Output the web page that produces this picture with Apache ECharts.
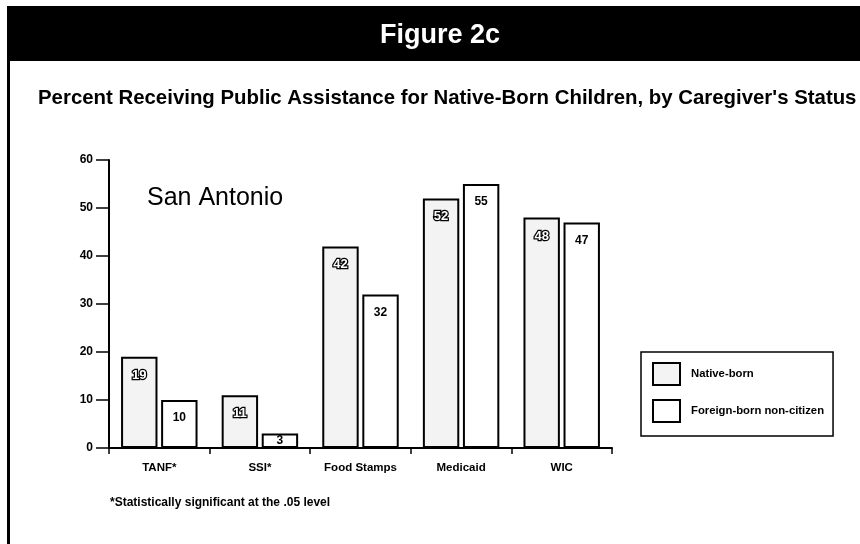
<!DOCTYPE html>
<html>
<head>
<meta charset="utf-8">
<script src="https://cdn.jsdelivr.net/npm/echarts@6/dist/echarts.min.js"></script>
<style>
  html, body { margin: 0; padding: 0; background: #fff; }
  #chart { width: 860px; height: 544px; }
</style>
</head>
<body>
<div id="chart"></div>
<script>
const categories = ['TANF*', 'SSI*', 'Food Stamps', 'Medicaid', 'WIC'];
const nativeBorn = [19, 11, 42, 52, 48];
const foreignBorn = [10, 3, 32, 55, 47];
const seriesNames = ['Native-born', 'Foreign-born non-citizen'];
const headerText = 'Figure 2c';
const subtitleText = "Percent Receiving Public Assistance for Native-Born Children, by Caregiver's Status";
const cityText = 'San Antonio';
const footnoteText = '*Statistically significant at the .05 level';

const FONT = '"Liberation Sans", Arial, Helvetica, sans-serif';

function items(vals) {
  return vals.map(v => (v < 6 ? { value: v, label: { distance: 1 } } : { value: v }));
}

const chart = echarts.init(document.getElementById('chart'), null, { renderer: 'canvas' });

chart.setOption({
  backgroundColor: '#ffffff',
  animation: false,
  grid: { left: 109, right: 248, top: 160, bottom: 96 },
  xAxis: {
    type: 'category',
    data: categories,
    axisLine: { show: true, lineStyle: { color: '#000', width: 2 } },
    axisTick: { show: true, length: 6, lineStyle: { color: '#000', width: 1.5 } },
    axisLabel: { color: '#000', fontFamily: FONT, fontWeight: 'bold', fontSize: 11.5, margin: 14 }
  },
  yAxis: {
    type: 'value',
    min: 0, max: 60, interval: 10,
    axisLine: { show: true, lineStyle: { color: '#000', width: 2 } },
    axisTick: { show: true, length: 13, lineStyle: { color: '#000', width: 1.5 } },
    splitLine: { show: false },
    axisLabel: { color: '#000', fontFamily: FONT, fontWeight: 'bold', fontSize: 12, margin: 16 }
  },
  legend: {
    show: true,
    orient: 'vertical',
    left: 641, top: 352,
    selectedMode: false,
    itemWidth: 27, itemHeight: 22, itemGap: 13,
    padding: [10, 9, 13, 11],
    borderColor: '#000', borderWidth: 1.5,
    backgroundColor: '#fff',
    icon: 'rect',
    textStyle: { color: '#000', fontFamily: FONT, fontWeight: 'bold', fontSize: 11.3, padding: [0, 0, 0, 6] },
    data: seriesNames
  },
  series: [
    {
      name: seriesNames[0],
      type: 'bar',
      data: items(nativeBorn),
      barGap: '10%',
      barCategoryGap: '24%',
      itemStyle: { color: '#f3f3f3', borderColor: '#000', borderWidth: 2 },
      label: {
        show: true, position: 'insideTop', distance: 12,
        color: '#fff', textBorderColor: '#000', textBorderWidth: 2.5,
        fontFamily: FONT, fontWeight: 'bold', fontSize: 13
      }
    },
    {
      name: seriesNames[1],
      type: 'bar',
      data: items(foreignBorn),
      barGap: '10%',
      barCategoryGap: '24%',
      itemStyle: { color: '#ffffff', borderColor: '#000', borderWidth: 2 },
      label: {
        show: true, position: 'insideTop', distance: 12,
        color: '#000',
        fontFamily: FONT, fontWeight: 'bold', fontSize: 12
      }
    }
  ],
  graphic: [
    { type: 'rect', shape: { x: 7, y: 6, width: 853, height: 55 }, style: { fill: '#000' }, silent: true },
    { type: 'rect', shape: { x: 7, y: 6, width: 3, height: 538 }, style: { fill: '#000' }, silent: true },
    { type: 'text', x: 440, y: 36, style: { text: headerText, fill: '#fff', font: 'bold 27px ' + FONT, textAlign: 'center', textVerticalAlign: 'middle' } },
    { type: 'text', x: 38, y: 98, style: { text: subtitleText, fill: '#000', font: 'bold 20.4px ' + FONT, textAlign: 'left', textVerticalAlign: 'middle' } },
    { type: 'text', x: 147, y: 198, style: { text: cityText, fill: '#000', font: '25px ' + FONT, textAlign: 'left', textVerticalAlign: 'middle' } },
    { type: 'text', x: 110, y: 503, style: { text: footnoteText, fill: '#000', font: 'bold 12px ' + FONT, textAlign: 'left', textVerticalAlign: 'middle' } }
  ]
});
</script>
</body>
</html>
